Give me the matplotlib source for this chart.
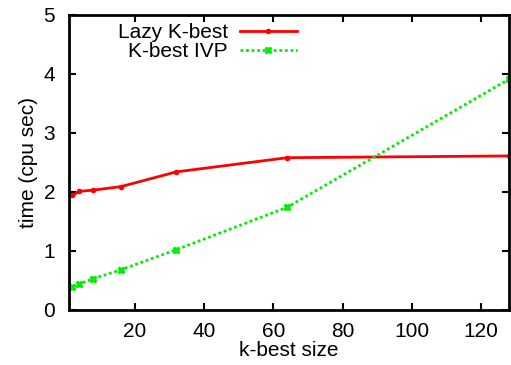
import matplotlib
matplotlib.use("Agg")
import matplotlib.pyplot as plt

plt.rcParams['font.family'] = ['Liberation Sans', 'DejaVu Sans']

# data
k_sizes = [2, 4, 8, 16, 32, 64, 128]
lazy_kbest = [1.94, 2.01, 2.03, 2.09, 2.34, 2.58, 2.61]
kbest_ivp = [0.39, 0.44, 0.53, 0.68, 1.02, 1.74, 3.91]

fig = plt.figure(figsize=(5.11, 3.65), dpi=100)
ax = fig.add_axes([0.135, 0.151, 0.861, 0.808])

ax.plot(k_sizes, lazy_kbest, color='#ff0000', lw=2, ls='-',
        marker='o', ms=3, label='Lazy K-best')
ax.plot(k_sizes, kbest_ivp, color='#00ee00', lw=2, ls=(0, (1, 1)),
        marker='X', ms=5, label='K-best IVP')

ax.set_xlim(1, 128)
ax.set_ylim(0, 5)
ax.set_xticks([20, 40, 60, 80, 100, 120])
ax.set_yticks([0, 1, 2, 3, 4, 5])
ax.tick_params(direction='in', top=True, right=True, length=5, width=1.5,
               labelsize=15)
ax.tick_params(axis='y', pad=10)
ax.tick_params(axis='x', pad=9)
for s in ax.spines.values():
    s.set_linewidth(2)

ax.set_xlabel('k-best size', fontsize=15, labelpad=0)
ax.set_ylabel('time (cpu sec)', fontsize=15, labelpad=4)

# gnuplot-style key: text first, then the sample line
ax.legend(loc='upper right', bbox_to_anchor=(0.56, 1.035), frameon=False,
          markerfirst=False, fontsize=15, handlelength=2.7,
          labelspacing=0.0, handletextpad=0.6)

fig.savefig('out.png', dpi=100)
